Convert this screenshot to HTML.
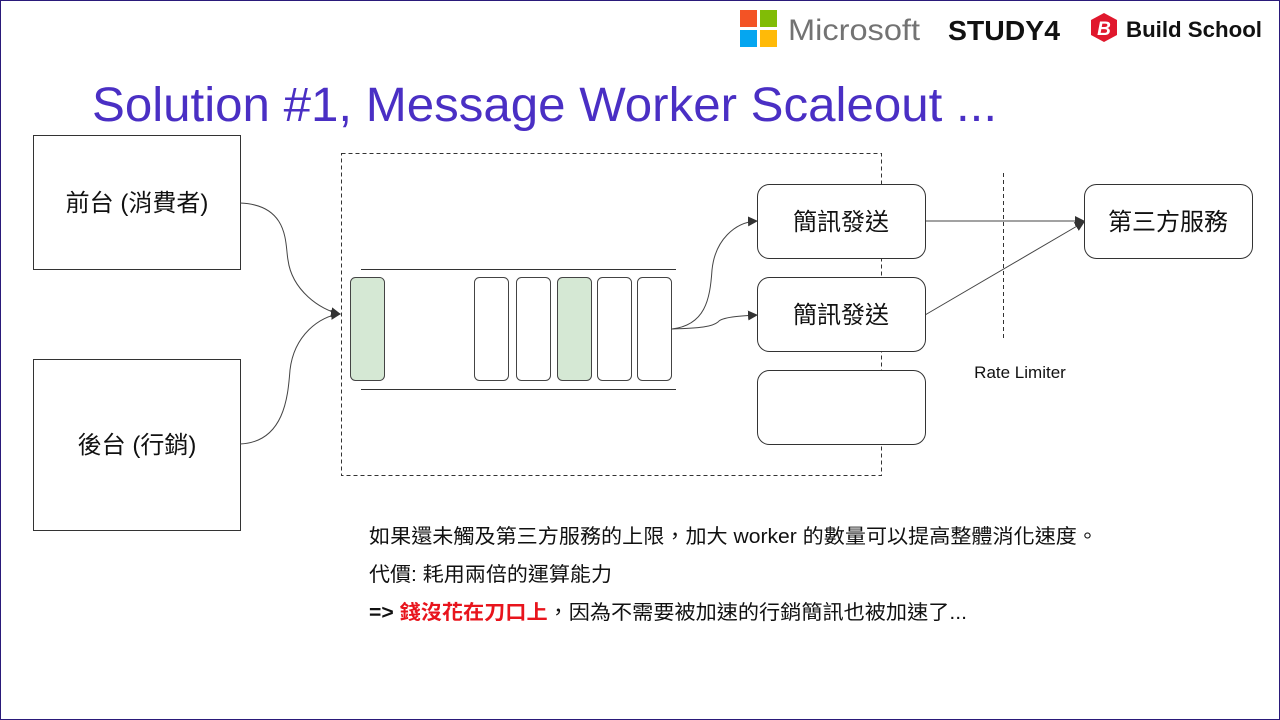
<!DOCTYPE html>
<html><head><meta charset="utf-8"><style>
html,body{margin:0;padding:0;background:#fff}
svg{display:block}
text{font-family:"Liberation Sans","Noto Sans CJK TC",sans-serif}
</style></head><body>
<svg width="1280" height="720" viewBox="0 0 1280 720" xmlns="http://www.w3.org/2000/svg">
<defs>
<marker id="a" markerWidth="10" markerHeight="10" refX="9" refY="5" orient="auto" markerUnits="userSpaceOnUse">
<path d="M0,0 L10,5 L0,10 z" fill="#333"/></marker>
</defs>
<rect x="0.5" y="0.5" width="1279" height="719" fill="#fff" stroke="#2a1a7a" stroke-width="1"/>
<!-- logos -->
<rect x="740" y="10" width="17" height="17" fill="#f35325"/>
<rect x="760" y="10" width="17" height="17" fill="#81bc06"/>
<rect x="740" y="30" width="17" height="17" fill="#05a6f0"/>
<rect x="760" y="30" width="17" height="17" fill="#ffba08"/>
<text x="788" y="40" font-size="30" fill="#737373" textLength="132" lengthAdjust="spacingAndGlyphs">Microsoft</text>
<text x="948" y="40" font-size="28" font-weight="bold" fill="#111" textLength="112" lengthAdjust="spacingAndGlyphs">STUDY4</text>
<polygon points="1104,13 1117,20 1117,35 1104,42 1091,35 1091,20" fill="#e0182d"/>
<text x="1104" y="35" font-size="19" font-style="italic" font-family="Liberation Serif" fill="#fff" text-anchor="middle" font-weight="bold">B</text>
<text x="1126" y="37" font-size="22" font-weight="bold" fill="#111" textLength="136" lengthAdjust="spacingAndGlyphs">Build School</text>
<!-- title -->
<text x="92" y="121" font-size="48" fill="#4a2fc4" textLength="905" lengthAdjust="spacingAndGlyphs">Solution #1, Message Worker Scaleout ...</text>
<!-- left boxes -->
<rect x="33.5" y="135.5" width="207" height="134" fill="#fff" stroke="#333"/>
<text x="137" y="211" font-size="24" text-anchor="middle" fill="#111">前台 (消費者)</text>
<rect x="33.5" y="359.5" width="207" height="171" fill="#fff" stroke="#333"/>
<text x="137" y="453" font-size="24" text-anchor="middle" fill="#111">後台 (行銷)</text>
<!-- dashed group -->
<rect x="341.5" y="153.5" width="540" height="322" fill="none" stroke="#333" stroke-dasharray="4,3"/>
<line x1="361" y1="269.5" x2="676" y2="269.5" stroke="#333"/>
<line x1="361" y1="389.5" x2="676" y2="389.5" stroke="#333"/>
<g stroke="#444" stroke-width="1">
<rect x="350.5" y="277.5" width="34" height="103" rx="5" fill="#d5e8d4"/>
<rect x="474.5" y="277.5" width="34" height="103" rx="5" fill="#fff"/>
<rect x="516.5" y="277.5" width="34" height="103" rx="5" fill="#fff"/>
<rect x="557.5" y="277.5" width="34" height="103" rx="5" fill="#d5e8d4"/>
<rect x="597.5" y="277.5" width="34" height="103" rx="5" fill="#fff"/>
<rect x="637.5" y="277.5" width="34" height="103" rx="5" fill="#fff"/>
</g>
<!-- curves -->
<g fill="none" stroke="#444" stroke-width="1">
<path d="M240,203 C290,205 285,245 288,260 C292,290 320,310 340,314" marker-end="url(#a)"/>
<path d="M240,444 C285,442 288,395 290,370 C294,335 320,316 340,314" marker-end="url(#a)"/>
<path d="M672,329 C705,325 710,300 712,270 C715,240 735,222 757,221" marker-end="url(#a)"/>
<path d="M672,329 C700,328 712,327 718,322 C722,317 740,316 757,315" marker-end="url(#a)"/>
<path d="M925,221 L1084,221" marker-end="url(#a)"/>
<path d="M925,315 L1084,222" marker-end="url(#a)"/>
</g>
<!-- workers -->
<g stroke="#333" fill="#fff">
<rect x="757.5" y="184.5" width="168" height="74" rx="12"/>
<rect x="757.5" y="277.5" width="168" height="74" rx="12"/>
<rect x="757.5" y="370.5" width="168" height="74" rx="12"/>
<rect x="1084.5" y="184.5" width="168" height="74" rx="12"/>
</g>
<text x="841" y="230" font-size="24" text-anchor="middle" fill="#111">簡訊發送</text>
<text x="841" y="323" font-size="24" text-anchor="middle" fill="#111">簡訊發送</text>
<text x="1168" y="230" font-size="24" text-anchor="middle" fill="#111">第三方服務</text>
<line x1="1003.5" y1="173" x2="1003.5" y2="338" stroke="#333" stroke-dasharray="4,3"/>
<text x="1020" y="378" font-size="17" text-anchor="middle" fill="#111">Rate Limiter</text>
<!-- notes -->
<text x="369" y="543" font-size="20" fill="#111" textLength="729" lengthAdjust="spacingAndGlyphs">如果還未觸及第三方服務的上限，加大  worker 的數量可以提高整體消化速度。</text>
<text x="369" y="581" font-size="20" fill="#111" textLength="243" lengthAdjust="spacingAndGlyphs">代價: 耗用兩倍的運算能力</text>
<text x="369" y="619" font-size="20" fill="#111" textLength="598" lengthAdjust="spacingAndGlyphs"><tspan font-weight="bold">=&gt; </tspan><tspan fill="#e8141c" font-weight="bold">錢沒花在刀口上</tspan><tspan>，因為不需要被加速的行銷簡訊也被加速了...</tspan></text>
</svg>
</body></html>
